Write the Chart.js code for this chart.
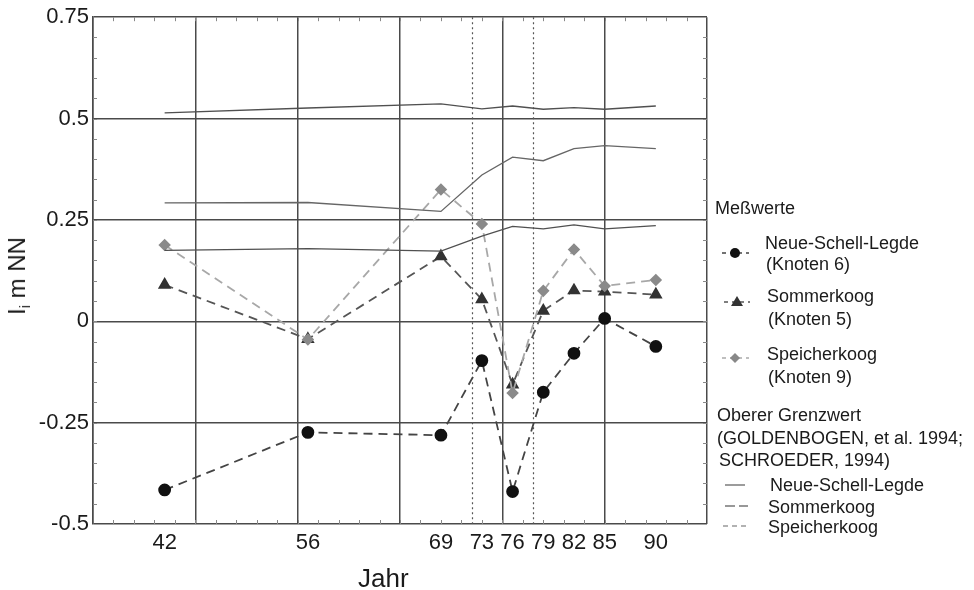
<!DOCTYPE html>
<html><head><meta charset="utf-8">
<script src="https://cdn.jsdelivr.net/npm/chart.js@4"></script>
<style>
html,body{margin:0;padding:0;background:#fff;}
#wrap{position:relative;width:974px;height:590px;font-family:"Liberation Sans",Arial,sans-serif;color:#1a1a1a;overflow:hidden;}
canvas{position:absolute;left:0;top:0;}
.t{position:absolute;white-space:nowrap;font-size:18px;line-height:18px;}
svg{position:absolute;overflow:visible;}
#ytitle{position:absolute;left:21px;top:276px;font-size:24px;line-height:24px;white-space:nowrap;transform:translate(-50%,-50%) rotate(-90deg);}
#ytitle sub{font-size:14px;vertical-align:-5px;}
#xtitle{position:absolute;left:358px;top:565px;font-size:26px;line-height:26px;}
</style></head><body>
<div id="wrap">
<canvas id="c" width="974" height="590"></canvas>
<div id="ytitle">I<sub>i</sub> m NN</div>
<div id="xtitle">Jahr</div>

<div class="t" style="left:715px;top:199px;">Meßwerte</div>
<svg style="left:0;top:0" width="974" height="590">
  <line x1="722" y1="253" x2="749" y2="253" stroke="#444" stroke-width="1.5" stroke-dasharray="4,4"/>
  <circle cx="735" cy="253" r="5" fill="#111"/>
  <line x1="724" y1="302" x2="750" y2="302" stroke="#555" stroke-width="1.5" stroke-dasharray="4,4"/>
  <polygon points="737,296 743,306 731,306" fill="#333"/>
  <line x1="722" y1="358" x2="749" y2="358" stroke="#aaa" stroke-width="1.5" stroke-dasharray="4,4"/>
  <polygon points="735,353 740,358 735,363 730,358" fill="#888"/>
  <line x1="725" y1="485" x2="745" y2="485" stroke="#666" stroke-width="1.3"/>
  <line x1="725" y1="506" x2="748" y2="506" stroke="#777" stroke-width="1.3" stroke-dasharray="10,4"/>
  <line x1="723" y1="526" x2="748" y2="526" stroke="#999" stroke-width="1.3" stroke-dasharray="5,4"/>
</svg>
<div class="t" style="left:765px;top:234px;">Neue-Schell-Legde</div>
<div class="t" style="left:766px;top:255px;">(Knoten 6)</div>
<div class="t" style="left:767px;top:287px;">Sommerkoog</div>
<div class="t" style="left:768px;top:310px;">(Knoten 5)</div>
<div class="t" style="left:767px;top:345px;">Speicherkoog</div>
<div class="t" style="left:768px;top:368px;">(Knoten 9)</div>
<div class="t" style="left:717px;top:406px;">Oberer Grenzwert</div>
<div class="t" style="left:717px;top:429px;">(GOLDENBOGEN, et al. 1994;</div>
<div class="t" style="left:719px;top:451px;">SCHROEDER, 1994)</div>
<div class="t" style="left:770px;top:476px;">Neue-Schell-Legde</div>
<div class="t" style="left:768px;top:498px;">Sommerkoog</div>
<div class="t" style="left:768px;top:518px;">Speicherkoog</div>
</div>
<script>
const years = [42, 56, 69, 73, 76, 79, 82, 85, 90];
const neueSchellLegde = [-0.416, -0.274, -0.281, -0.097, -0.420, -0.175, -0.079, 0.007, -0.062];
const sommerkoog = [0.090, -0.044, 0.160, 0.054, -0.156, 0.026, 0.076, 0.073, 0.066];
const speicherkoog = [0.188, -0.045, 0.325, 0.240, -0.177, 0.075, 0.177, 0.087, 0.102];
const grenzNeueSchellLegde = [0.514, 0.526, 0.536, 0.524, 0.531, 0.523, 0.527, 0.523, 0.531];
const grenzSpeicherkoog = [0.292, 0.293, 0.271, 0.361, 0.405, 0.396, 0.426, 0.433, 0.426];
const grenzSommerkoog = [0.175, 0.179, 0.173, 0.210, 0.234, 0.228, 0.238, 0.228, 0.236];
const gridYears = [35, 45, 55, 65, 75, 85, 95];
const markerYears = [72, 78];
const yTicks = [-0.5, -0.25, 0, 0.25, 0.5, 0.75];
const minorXStep = 2;
const minorYStep = 0.05;

const pts = arr => years.map((x, i) => ({x, y: arr[i]}));
const FONT = "'Liberation Sans', Arial, sans-serif";

const markerPlugin = {
  id: 'markers',
  beforeDatasetsDraw(chart) {
    const {ctx, chartArea: a, scales: {x, y}} = chart;
    ctx.save();
    // minor ticks
    ctx.strokeStyle = '#888';
    ctx.lineWidth = 1;
    ctx.beginPath();
    for (let v = x.min + minorXStep; v < x.max; v += minorXStep) {
      const px = Math.round(x.getPixelForValue(v)) + 0.5;
      ctx.moveTo(px, a.bottom); ctx.lineTo(px, a.bottom - 4);
      ctx.moveTo(px, a.top); ctx.lineTo(px, a.top + 4);
    }
    const n = Math.round((y.max - y.min) / minorYStep);
    for (let i = 1; i < n; i++) {
      const py = Math.round(y.getPixelForValue(y.min + i * minorYStep)) + 0.5;
      ctx.moveTo(a.left, py); ctx.lineTo(a.left + 4, py);
      ctx.moveTo(a.right, py); ctx.lineTo(a.right - 4, py);
    }
    ctx.stroke();
    // dotted marker lines
    ctx.strokeStyle = '#555';
    ctx.lineWidth = 1.2;
    ctx.setLineDash([2, 3]);
    markerYears.forEach(v => {
      const px = Math.round(x.getPixelForValue(v)) + 0.5;
      ctx.beginPath(); ctx.moveTo(px, a.top); ctx.lineTo(px, a.bottom); ctx.stroke();
    });
    ctx.restore();
  }
};

const limitStyle = c => ({borderColor: c, borderWidth: 1.3, pointRadius: 0, fill: false, tension: 0});

new Chart(document.getElementById('c'), {
  type: 'line',
  data: {
    datasets: [
      Object.assign({label: 'Grenzwert Neue-Schell-Legde', data: pts(grenzNeueSchellLegde)}, limitStyle('#505050')),
      Object.assign({label: 'Grenzwert Speicherkoog', data: pts(grenzSpeicherkoog)}, limitStyle('#666')),
      Object.assign({label: 'Grenzwert Sommerkoog', data: pts(grenzSommerkoog)}, limitStyle('#505050')),
      {label: 'Speicherkoog (Knoten 9)', data: pts(speicherkoog), borderColor: '#a8a8a8', borderWidth: 1.8, borderDash: [9, 6],
       pointStyle: 'rectRot', pointRadius: 5, pointBackgroundColor: '#8a8a8a', pointBorderColor: '#8a8a8a', tension: 0},
      {label: 'Sommerkoog (Knoten 5)', data: pts(sommerkoog), borderColor: '#555', borderWidth: 1.8, borderDash: [9, 6],
       pointStyle: 'triangle', pointRadius: 6, pointBackgroundColor: '#333', pointBorderColor: '#333', tension: 0},
      {label: 'Neue-Schell-Legde (Knoten 6)', data: pts(neueSchellLegde), borderColor: '#444', borderWidth: 1.8, borderDash: [9, 6],
       pointStyle: 'circle', pointRadius: 5.5, pointBackgroundColor: '#111', pointBorderColor: '#111', tension: 0}
    ]
  },
  options: {
    responsive: false,
    animation: false,
    layout: {padding: {top: 15, right: 267, left: 0, bottom: 0}},
    plugins: {legend: {display: false}, tooltip: {enabled: false}},
    scales: {
      x: {
        type: 'linear', min: 35, max: 95, position: 'bottom',
        afterBuildTicks: s => { s.ticks = years.map(v => ({value: v})); },
        afterFit: s => { s.height = 66; },
        grid: {display: false, drawTicks: false},
        border: {display: false},
        ticks: {padding: 6, font: {family: FONT, size: 22}, color: '#1a1a1a', autoSkip: false, maxRotation: 0,
                callback: v => String(v)}
      },
      x2: {
        type: 'linear', min: 35, max: 95, position: 'bottom',
        afterBuildTicks: s => { s.ticks = gridYears.map(v => ({value: v})); },
        afterFit: s => { s.height = 0; },
        grid: {color: '#4a4a4a', lineWidth: 1.5, drawTicks: false},
        border: {display: false},
        ticks: {display: false}
      },
      y: {
        type: 'linear', min: -0.5, max: 0.75,
        afterBuildTicks: s => { s.ticks = yTicks.map(v => ({value: v})); },
        afterFit: s => { s.width = 93; },
        grid: {color: '#4a4a4a', lineWidth: 1.5, drawTicks: false},
        border: {color: '#4a4a4a', width: 1.5},
        ticks: {padding: 4, font: {family: FONT, size: 22}, color: '#1a1a1a', callback: v => String(v)}
      }
    }
  },
  plugins: [markerPlugin]
});
</script>
</body></html>
